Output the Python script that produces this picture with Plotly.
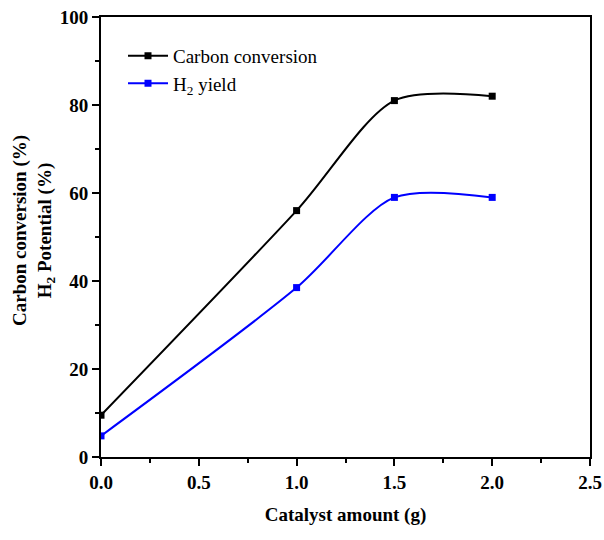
import plotly.graph_objects as go

catalyst = [0.0, 1.0, 1.5, 2.0]
carbon_conversion = [9.5, 56, 81, 82]
h2_yield = [4.8, 38.5, 59, 59]
x_ticks = [0.0, 0.5, 1.0, 1.5, 2.0, 2.5]
x_tick_labels = ["0.0", "0.5", "1.0", "1.5", "2.0", "2.5"]
y_ticks = [0, 20, 40, 60, 80, 100]

font_family = "Liberation Serif"

fig = go.Figure()
fig.add_trace(go.Scatter(
    x=catalyst, y=carbon_conversion, name="Carbon conversion",
    mode="lines+markers",
    line=dict(color="black", width=2, shape="spline", smoothing=0.8),
    marker=dict(symbol="square", size=7, color="black"),
))
fig.add_trace(go.Scatter(
    x=catalyst, y=h2_yield, name="H<sub>2</sub> yield",
    mode="lines+markers",
    line=dict(color="#0000ff", width=2, shape="spline", smoothing=0.8),
    marker=dict(symbol="square", size=7, color="#0000ff"),
))

axis_common = dict(
    showline=True, linecolor="black", linewidth=2, mirror=True,
    ticks="outside", ticklen=7, tickwidth=2, tickcolor="black",
    showgrid=False, zeroline=False, automargin=False,
    tickfont=dict(family=font_family, size=19, color="black", weight="bold"),
)

fig.update_layout(
    width=604, height=540,
    margin=dict(l=101, r=14, t=17, b=83),
    paper_bgcolor="white", plot_bgcolor="white",
    font=dict(family=font_family, color="black"),
    showlegend=True,
    legend=dict(
        x=0.045, y=0.955, xanchor="left", yanchor="top",
        font=dict(family=font_family, size=19, color="black"),
        bgcolor="rgba(0,0,0,0)", tracegroupgap=0, itemwidth=40,
    ),
    xaxis=dict(
        range=[0, 2.5], tickmode="array", tickvals=x_ticks, ticktext=x_tick_labels,
        minor=dict(ticks="outside", dtick=0.25, ticklen=4, tickwidth=2, tickcolor="black"),
        title=dict(text="<b>Catalyst amount (g)</b>", font=dict(family=font_family, size=19, color="black"), standoff=16),
        **axis_common,
    ),
    yaxis=dict(
        range=[0, 100], tickmode="array", tickvals=y_ticks,
        minor=dict(ticks="outside", dtick=10, ticklen=4, tickwidth=2, tickcolor="black"),
        **axis_common,
    ),
    annotations=[dict(
        text="<b>Carbon conversion (%)<br>H<sub>2</sub> Potential (%)</b>",
        xref="paper", yref="paper", x=0, y=0.5, xanchor="center", yanchor="middle",
        xshift=-68, yshift=6, textangle=-90, showarrow=False,
        font=dict(family=font_family, size=19, color="black"),
    )],
)

fig.write_html("out.html")
